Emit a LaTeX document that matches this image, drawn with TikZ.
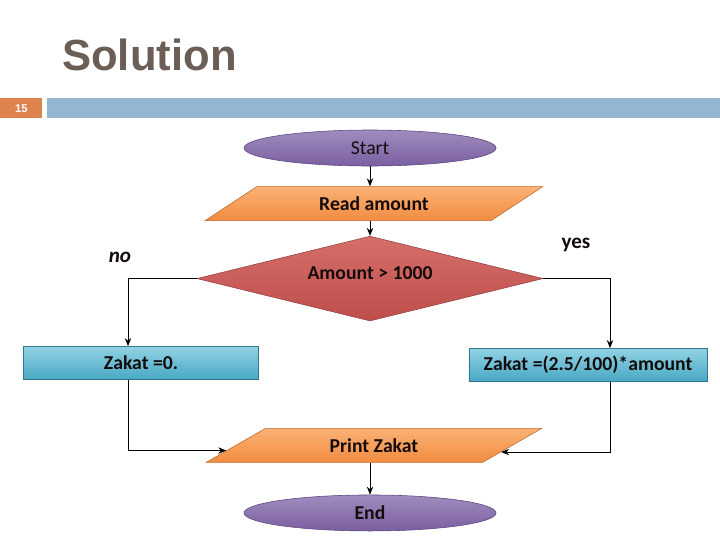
\documentclass[tikz,border=0pt]{standalone}
\usepackage{fontspec}
\setmainfont{Carlito}
\newfontfamily\titlefont{Liberation Sans}
\usepackage{xcolor}
\usetikzlibrary{positioning, arrows.meta, shapes.geometric, calc}

\definecolor{titlegray}{RGB}{107,94,86}
\definecolor{barblue}{RGB}{148,182,210}
\definecolor{numorange}{RGB}{222,130,78}
\definecolor{termtop}{RGB}{160,140,190}
\definecolor{termbot}{RGB}{122,95,160}
\definecolor{termedge}{RGB}{92,70,129}
\definecolor{iotop}{RGB}{250,178,118}
\definecolor{iobot}{RGB}{242,140,64}
\definecolor{ioedge}{RGB}{192,104,42}
\definecolor{dectop}{RGB}{214,110,106}
\definecolor{decbot}{RGB}{190,78,75}
\definecolor{decedge}{RGB}{150,66,64}
\definecolor{proctop}{RGB}{145,210,228}
\definecolor{procbot}{RGB}{72,168,196}
\definecolor{procedge}{RGB}{50,120,140}
\definecolor{labeltext}{RGB}{20,12,12}

\begin{document}
\begin{tikzpicture}[
    x=0.025cm, y=-0.025cm,
    node distance=0.5cm,
    term/.style={ellipse, draw=termedge, top color=termtop, bottom color=termbot, minimum width=6.3cm, minimum height=0.9cm, inner sep=0pt, text=labeltext, font=\fontsize{14}{16}\selectfont},
    io/.style={trapezium, trapezium left angle=30, trapezium right angle=150, trapezium stretches=true, draw=ioedge, top color=iotop, bottom color=iobot, minimum width=8.45cm, minimum height=0.85cm, inner sep=0pt, text=labeltext, font=\bfseries\fontsize{14}{16}\selectfont},
    decision/.style={diamond, draw=decedge, top color=dectop, bottom color=decbot, minimum width=8.65cm, minimum height=2.12cm, inner sep=0pt, aspect=4, text=labeltext, font=\bfseries\fontsize{14}{16}\selectfont},
    proc/.style={rectangle, draw=procedge, top color=proctop, bottom color=procbot, minimum height=0.83cm, inner sep=0pt, text=labeltext, font=\bfseries\fontsize{14}{16}\selectfont},
    arrow/.style={-{Stealth[length=2mm, width=1.6mm]}, line width=0.7pt},
    branch/.style={text=labeltext, font=\bfseries\fontsize{15}{17}\selectfont},
]
\useasboundingbox (0,0) rectangle (720,540);

% Slide header
\node[anchor=base west, inner sep=0pt, font=\titlefont\bfseries\fontsize{31}{35}\selectfont, text=titlegray] (title) at (62,70) {Solution};
\node[anchor=north west, fill=numorange, minimum width=1.05cm, minimum height=0.5cm, inner sep=0pt, text=white, font=\titlefont\bfseries\fontsize{8}{9}\selectfont] (num) at (0,98) {15};
\node[fill=barblue, minimum width=16.85cm, minimum height=0.5cm, inner sep=0pt, right=0.1cm of num] (bar) {};

% Main column
\node[term] (start) at (370,148) {Start};
\node[io, below=0.5cm of start, xshift=0.1cm] (read) {Read amount};
\node[decision, below=0.375cm of read, xshift=-0.1cm] (dia) {\raisebox{0.26cm}{Amount > 1000}};

% Branches
\node[proc, minimum width=5.87cm] (zero) at (141,363) {Zakat =0.};
\node[proc, minimum width=5.95cm] (calc) at (588,365) {Zakat =(2.5/100)*amount};

\node[io, below=2.67cm of dia, xshift=0.1cm] (print) {Print Zakat};
\node[term, font=\bfseries\fontsize{14}{16}\selectfont, below=0.8cm of print, xshift=-0.1cm] (end) {End};

% Branch labels
\node[branch, font=\bfseries\itshape\fontsize{15}{17}\selectfont] (no) at (120,257) {no};
\node[branch] (yes) at (576,245) {yes};

% Turning points
\coordinate (noturn) at (128,0 |- dia.west);
\coordinate (yesturn) at (610,0 |- dia.east);

% Arrows
\draw[arrow] (start.south) -- (start.south |- read.north);
\draw[arrow] (read.south -| dia.north) -- (dia.north);
\draw[arrow] (dia.west) -- (noturn) -- (zero.north -| noturn);
\draw[arrow] (dia.east) -- (yesturn) -- (calc.north -| yesturn);
\draw[arrow] (zero.south -| noturn) |- (print.182);
\draw[arrow] (calc.south -| yesturn) |- (print.357);
\draw[arrow] (print.south -| end.north) -- (end.north);

\end{tikzpicture}
\end{document}
